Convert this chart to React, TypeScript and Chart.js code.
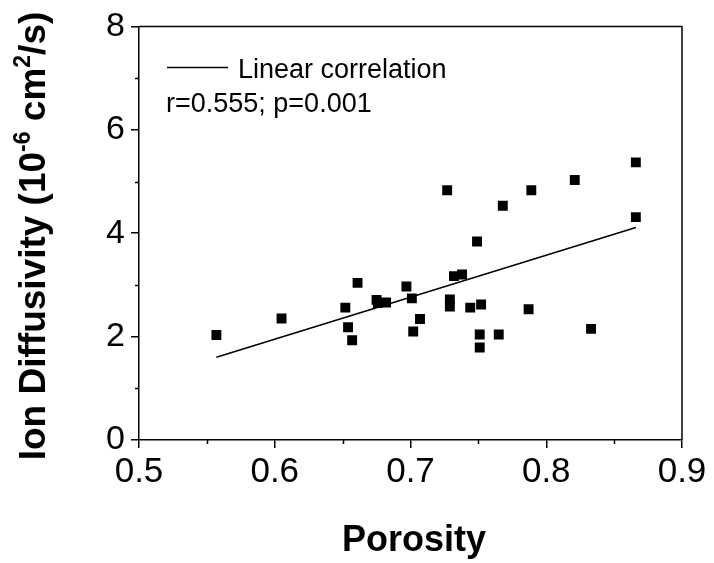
import React, { useEffect, useRef } from "react";
import { Chart, registerables } from "chart.js";

Chart.register(...registerables);

const porosity = [0.557, 0.605, 0.652, 0.654, 0.657, 0.661, 0.675, 0.676, 0.682, 0.697, 0.701, 0.702, 0.707, 0.727, 0.729, 0.729, 0.732, 0.738, 0.744, 0.749, 0.751, 0.751, 0.752, 0.765, 0.768, 0.787, 0.789, 0.821, 0.833, 0.866, 0.866];
const diffusivity = [2.03, 2.35, 2.56, 2.18, 1.93, 3.04, 2.71, 2.65, 2.66, 2.97, 2.74, 2.10, 2.34, 4.83, 2.72, 2.58, 3.17, 3.20, 2.56, 3.84, 2.04, 1.79, 2.62, 2.04, 4.53, 2.53, 4.83, 5.03, 2.15, 5.37, 4.31];
const fitX = [0.557, 0.866];
const fitY = [1.6, 4.11];
const xMinorTicks = [0.55, 0.65, 0.75, 0.85];
const yMinorTicks = [1, 3, 5, 7];
const legendLabel = "Linear correlation";
const statsLabel = "r=0.555; p=0.001";
const xTitle = "Porosity";
const yTitleParts = [
  { t: "Ion Diffusivity (10", sup: false },
  { t: "-6", sup: true },
  { t: " cm", sup: false },
  { t: "2", sup: true },
  { t: "/s)", sup: false },
];

const FONT = "'Liberation Sans', Arial, sans-serif";

const decorPlugin = {
  id: "decor",
  afterDraw(chart: any) {
    const { ctx, chartArea } = chart;
    const { left, right, top, bottom } = chartArea;
    const xs = chart.scales.x;
    const ys = chart.scales.y;
    ctx.save();
    ctx.strokeStyle = "#000";
    ctx.lineWidth = 1.5;
    // top & right frame
    ctx.beginPath();
    ctx.moveTo(left, top);
    ctx.lineTo(right, top);
    ctx.lineTo(right, bottom);
    ctx.stroke();
    // minor ticks
    ctx.beginPath();
    for (const v of xMinorTicks) {
      const px = Math.round(xs.getPixelForValue(v)) + 0.5;
      ctx.moveTo(px, bottom);
      ctx.lineTo(px, bottom + 4);
    }
    for (const v of yMinorTicks) {
      const py = Math.round(ys.getPixelForValue(v)) + 0.5;
      ctx.moveTo(left, py);
      ctx.lineTo(left - 4, py);
    }
    ctx.stroke();

    // legend
    ctx.lineWidth = 1.3;
    ctx.beginPath();
    ctx.moveTo(167, 67.5);
    ctx.lineTo(228, 67.5);
    ctx.stroke();
    ctx.fillStyle = "#000";
    ctx.textBaseline = "alphabetic";
    ctx.textAlign = "left";
    ctx.font = `27px ${FONT}`;
    ctx.fillText(legendLabel, 238, 78);
    ctx.fillText(statsLabel, 166, 112);

    // x title
    ctx.font = `bold 36px ${FONT}`;
    ctx.textAlign = "center";
    ctx.fillText(xTitle, 414, 551);

    // y title with superscripts
    ctx.textAlign = "left";
    const big = `bold 37px ${FONT}`;
    const small = `bold 23px ${FONT}`;
    let total = 0;
    for (const p of yTitleParts) {
      ctx.font = p.sup ? small : big;
      total += ctx.measureText(p.t).width;
    }
    ctx.translate(45, 236);
    ctx.rotate(-Math.PI / 2);
    let x = -total / 2;
    for (const p of yTitleParts) {
      ctx.font = p.sup ? small : big;
      ctx.fillText(p.t, x, p.sup ? -15 : 0);
      x += ctx.measureText(p.t).width;
    }
    ctx.restore();
  },
};

export default function App() {
  const ref = useRef<HTMLCanvasElement>(null);
  useEffect(() => {
    document.body.style.margin = "0";
    const canvas = ref.current!;
    const chart = new Chart(canvas, {
      type: "scatter",
      data: {
        datasets: [
          {
            type: "scatter",
            label: "data",
            data: porosity.map((x, i) => ({ x, y: diffusivity[i] })),
            pointStyle: "rect",
            pointRadius: 7,
            pointBorderWidth: 0,
            backgroundColor: "#000",
            borderColor: "#000",
          },
          {
            type: "line",
            label: legendLabel,
            data: fitX.map((x, i) => ({ x, y: fitY[i] })),
            borderColor: "#000",
            borderWidth: 1.5,
            pointRadius: 0,
            fill: false,
          },
        ],
      },
      options: {
        responsive: false,
        animation: false,
        devicePixelRatio: 1,
        layout: { padding: { top: 23, right: 32, left: 0, bottom: 0 } },
        plugins: { legend: { display: false }, tooltip: { enabled: false } },
        scales: {
          x: {
            type: "linear",
            min: 0.5,
            max: 0.9,
            afterFit: (s: any) => { s.height = 123; },
            ticks: {
              stepSize: 0.1,
              autoSkip: false,
              maxRotation: 0,
              padding: 3,
              color: "#000",
              font: { family: FONT, size: 35 },
              callback: (v: any) => Number(v).toFixed(1),
            },
            grid: { drawOnChartArea: false, drawTicks: true, tickLength: 8, color: "#000", lineWidth: 1.5 },
            border: { display: true, color: "#000", width: 1.5 },
          },
          y: {
            min: 0,
            max: 8,
            afterFit: (s: any) => { s.width = 139; },
            ticks: {
              stepSize: 2,
              autoSkip: false,
              padding: 6,
              color: "#000",
              font: { family: FONT, size: 34 },
              callback: (v: any) => String(Math.round(Number(v))),
            },
            grid: { drawOnChartArea: false, drawTicks: true, tickLength: 8, color: "#000", lineWidth: 1.5 },
            border: { display: true, color: "#000", width: 1.5 },
          },
        },
      },
      plugins: [decorPlugin],
    } as any);
    return () => chart.destroy();
  }, []);
  return <canvas ref={ref} width={714} height={563} style={{ display: "block" }} />;
}
